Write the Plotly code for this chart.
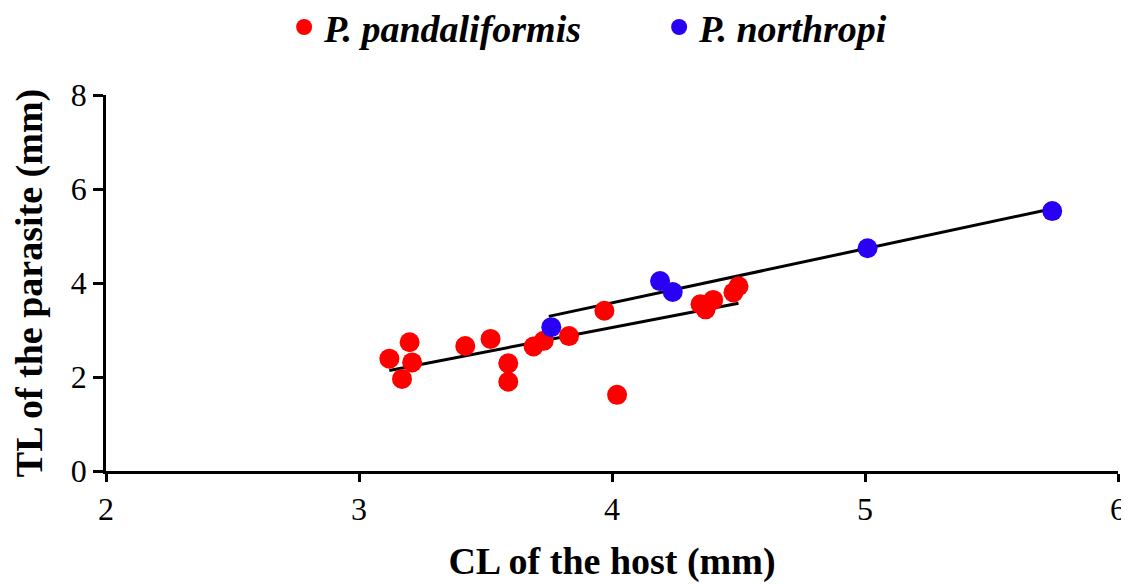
import plotly.graph_objects as go

# P. pandaliformis (red)
pand_cl = [3.12, 3.20, 3.17, 3.21, 3.42, 3.52, 3.59, 3.59, 3.69, 3.73, 3.83, 3.97, 4.02, 4.35, 4.37, 4.40, 4.48, 4.50]
pand_tl = [2.39, 2.74, 1.96, 2.31, 2.66, 2.81, 2.29, 1.90, 2.65, 2.77, 2.87, 3.41, 1.62, 3.55, 3.44, 3.64, 3.80, 3.93]
# P. northropi (blue)
north_cl = [3.76, 4.19, 4.24, 5.01, 5.74]
north_tl = [3.06, 4.04, 3.81, 4.74, 5.53]
# fitted lines
pand_fit_x = [3.12, 4.50]
pand_fit_y = [2.14, 3.57]
north_fit_x = [3.75, 5.74]
north_fit_y = [3.29, 5.58]

x_ticks = [2, 3, 4, 5, 6]
y_ticks = [0, 2, 4, 6, 8]

RED = "#ff0000"
BLUE = "#2a00f5"
FONT = "Liberation Serif"

fig = go.Figure()
fig.add_trace(go.Scatter(x=pand_fit_x, y=pand_fit_y, mode="lines",
                         line=dict(color="black", width=3), showlegend=False, hoverinfo="skip"))
fig.add_trace(go.Scatter(x=north_fit_x, y=north_fit_y, mode="lines",
                         line=dict(color="black", width=3), showlegend=False, hoverinfo="skip"))
fig.add_trace(go.Scatter(x=pand_cl, y=pand_tl, mode="markers", name="P. pandaliformis",
                         marker=dict(color=RED, size=20, line=dict(width=0)), cliponaxis=False))
fig.add_trace(go.Scatter(x=north_cl, y=north_tl, mode="markers", name="P. northropi",
                         marker=dict(color=BLUE, size=20, line=dict(width=0)), cliponaxis=False))

fig.update_layout(
    width=1121, height=576,
    margin=dict(l=98, r=11, t=87, b=113, autoexpand=False),
    paper_bgcolor="white", plot_bgcolor="white",
    font=dict(family=FONT, color="black"),
    legend=dict(orientation="h", x=0.176, xanchor="left", y=1.18, yanchor="middle",
                font=dict(family=FONT, size=38, weight="bold", style="italic", color="black"),
                itemsizing="trace", tracegroupgap=0, itemwidth=30, entrywidth=330),
    xaxis=dict(range=[2, 6], tickvals=x_ticks, ticktext=[str(v) for v in x_ticks],
               showgrid=False, zeroline=False, showline=True, linecolor="black", linewidth=2.5,
               ticks="outside", ticklen=8, tickwidth=2.5, tickcolor="black", automargin=False,
               ticklabeloverflow="allow",
               tickfont=dict(family=FONT, size=32),
               title=dict(text="CL of the host (mm)", standoff=22,
                          font=dict(family=FONT, size=38, weight="bold"))),
    yaxis=dict(range=[0, 8], tickvals=y_ticks, ticktext=[str(v) for v in y_ticks],
               showgrid=False, zeroline=False, showline=True, linecolor="black", linewidth=2.5,
               ticks="outside", ticklen=10, tickwidth=2.5, tickcolor="black", automargin=False,
               ticklabeloverflow="allow",
               tickfont=dict(family=FONT, size=32),
               title=dict(text="TL of the parasite (mm)", standoff=18,
                          font=dict(family=FONT, size=38, weight="bold"))),
)

fig.write_html("out.html")
